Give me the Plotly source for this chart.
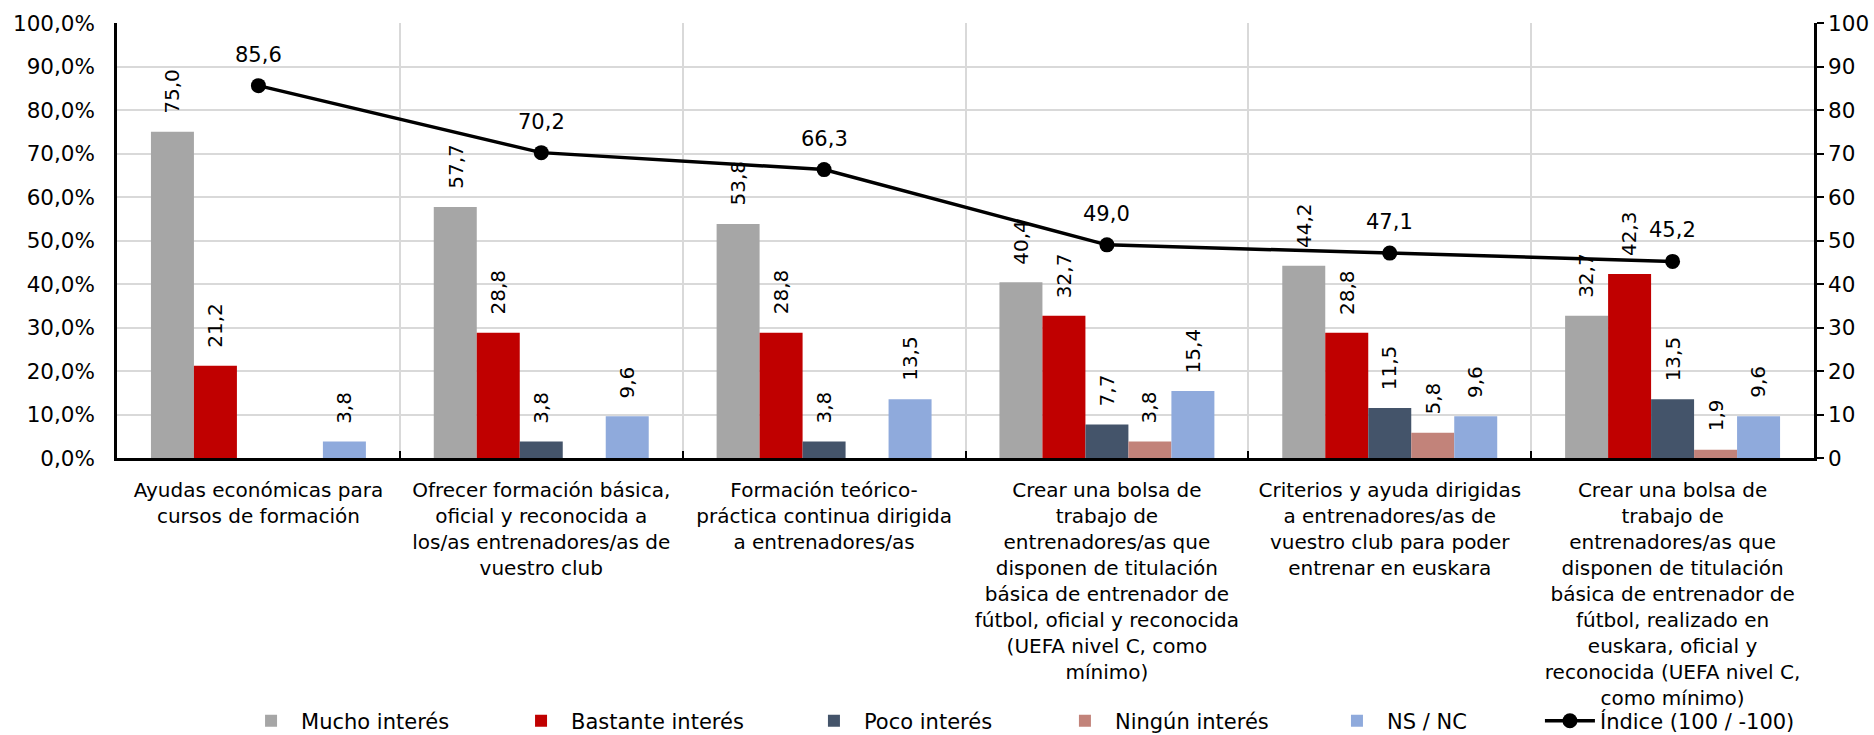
import plotly.graph_objects as go

# Categories (x axis)
categorias = [
    "Ayudas económicas para<br>cursos de formación",
    "Ofrecer formación básica,<br>oficial y reconocida a<br>los/as entrenadores/as de<br>vuestro club",
    "Formación teórico-<br>práctica continua dirigida<br>a entrenadores/as",
    "Crear una bolsa de<br>trabajo de<br>entrenadores/as que<br>disponen de titulación<br>básica de entrenador de<br>fútbol, oficial y reconocida<br>(UEFA nivel C, como<br>mínimo)",
    "Criterios y ayuda dirigidas<br>a entrenadores/as de<br>vuestro club para poder<br>entrenar en euskara",
    "Crear una bolsa de<br>trabajo de<br>entrenadores/as que<br>disponen de titulación<br>básica de entrenador de<br>fútbol, realizado en<br>euskara, oficial y<br>reconocida (UEFA nivel C,<br>como mínimo)",
]

# Percentages per answer
mucho = [75.0, 57.7, 53.8, 40.4, 44.2, 32.7]
bastante = [21.2, 28.8, 28.8, 32.7, 28.8, 42.3]
poco = [None, 3.8, 3.8, 7.7, 11.5, 13.5]
ningun = [None, None, None, 3.8, 5.8, 1.9]
ns_nc = [3.8, 9.6, 13.5, 15.4, 9.6, 9.6]

# Index (100 / -100), right axis
indice = [85.6, 70.2, 66.3, 49.0, 47.1, 45.2]

series = [
    ("Mucho interés", mucho, "#A6A6A6"),
    ("Bastante interés", bastante, "#C00000"),
    ("Poco interés", poco, "#44546A"),
    ("Ningún interés", ningun, "#C2837A"),
    ("NS / NC", ns_nc, "#8FAADC"),
]

FONT = "DejaVu Sans"
BARGAP = 0.24

# one legend box per entry, spread along the bottom edge
legend_ids = ["legend", "legend2", "legend3", "legend4", "legend5", "legend6"]
legend_x = [0.0731, 0.2322, 0.4048, 0.5527, 0.7130, 0.8385]

fig = go.Figure()

for (nombre, valores, color), lg in zip(series, legend_ids):
    fig.add_trace(go.Bar(
        x=categorias, y=valores, name=nombre, legend=lg,
        marker=dict(color=color, line=dict(width=0)),
    ))

fig.add_trace(go.Scatter(
    x=categorias, y=indice, name="Índice (100 / -100)", yaxis="y2",
    legend=legend_ids[-1],
    mode="lines+markers",
    line=dict(color="black", width=3.5),
    marker=dict(color="black", size=15),
))

# Rotated value labels above each bar
annotations = []
n = len(series)
w = (1 - BARGAP) / n
for k, (nombre, valores, color) in enumerate(series):
    for i, v in enumerate(valores):
        if v is None:
            continue
        annotations.append(dict(
            x=i + (k - (n - 1) / 2) * w, y=v, xref="x", yref="y",
            text=f"{v:.1f}".replace(".", ","),
            textangle=-90, showarrow=False,
            xanchor="center", yanchor="bottom", yshift=16,
            font=dict(family=FONT, size=20, color="black"),
        ))

# Index labels above the markers
for i, v in enumerate(indice):
    annotations.append(dict(
        x=i, y=v, xref="x", yref="y2",
        text=f"{v:.1f}".replace(".", ","),
        showarrow=False, xanchor="center", yanchor="middle", yshift=31,
        font=dict(family=FONT, size=21, color="black"),
    ))

legend_style = dict(
    orientation="h", xanchor="left", yanchor="bottom", y=-0.652,
    itemwidth=50,
    font=dict(family=FONT, size=21, color="black"),
    bgcolor="rgba(0,0,0,0)",
)
legends = {lg: dict(legend_style, x=x) for lg, x in zip(legend_ids, legend_x)}

fig.update_layout(
    width=1874, height=735,
    margin=dict(l=117, r=60, t=23, b=277, autoexpand=False),
    paper_bgcolor="white", plot_bgcolor="white",
    font=dict(family=FONT, size=20, color="black"),
    separators=",.",
    showlegend=True,
    barmode="group", bargap=BARGAP, bargroupgap=0,
    annotations=annotations,
    xaxis=dict(
        type="category", tickson="boundaries",
        showgrid=True, gridcolor="#D9D9D9", gridwidth=2,
        showline=True, linecolor="black", linewidth=2.5,
        ticks="inside", ticklen=7, tickcolor="black", tickwidth=2,
        tickfont=dict(family=FONT, size=20, color="black"),
        ticklabelstandoff=12,
    ),
    yaxis=dict(
        range=[0, 100], dtick=10,
        tickformat=".1f", ticksuffix="%",
        showgrid=True, gridcolor="#D9D9D9", gridwidth=2,
        showline=True, linecolor="black", linewidth=2.5,
        ticks="outside", ticklen=15, tickcolor="rgba(0,0,0,0)",
        tickfont=dict(family=FONT, size=21.5, color="black"),
        zeroline=False,
    ),
    yaxis2=dict(
        range=[0, 100], dtick=10, overlaying="y", side="right",
        showgrid=False, zeroline=False,
        showline=True, linecolor="black", linewidth=2.5,
        ticks="outside", ticklen=7, tickcolor="black", tickwidth=2,
        tickfont=dict(family=FONT, size=21.5, color="black"),
    ),
    **legends,
)

fig.write_html("out.html")
